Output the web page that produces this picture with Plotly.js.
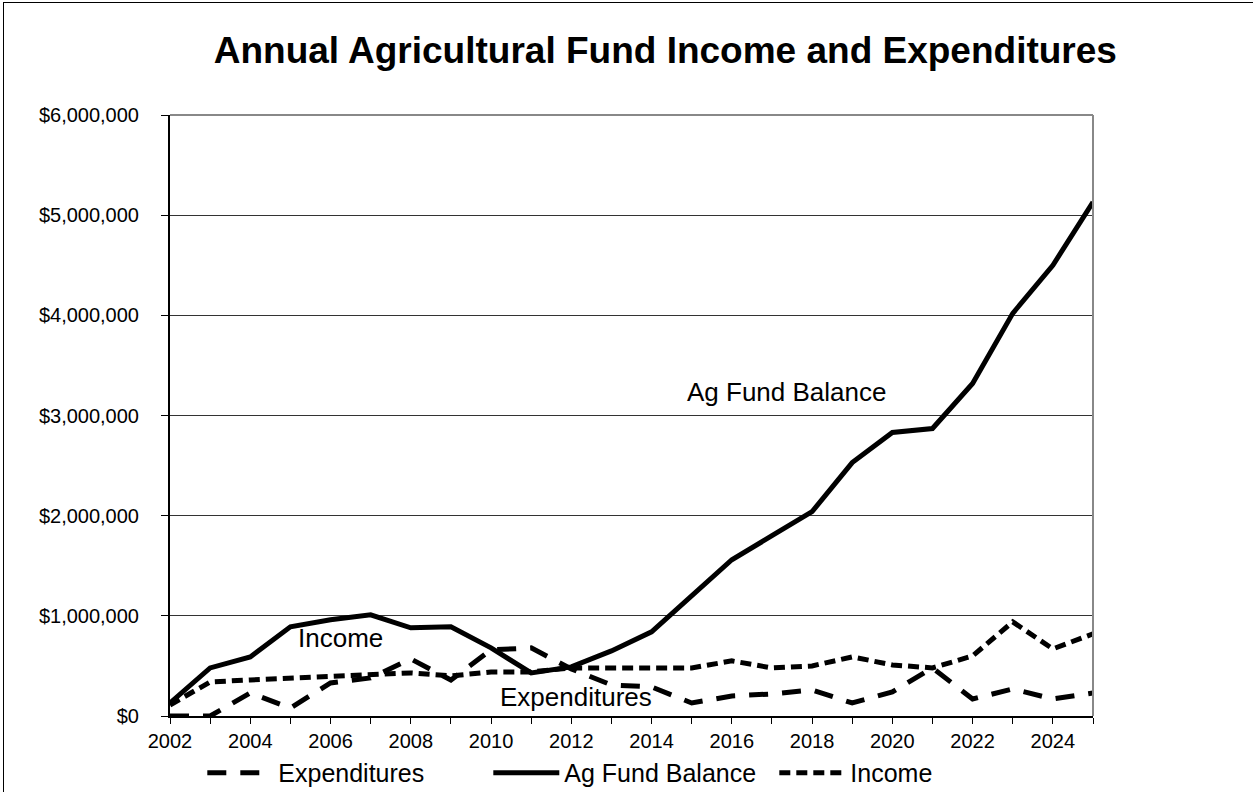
<!DOCTYPE html>
<html>
<head>
<meta charset="utf-8">
<script src="https://cdn.plot.ly/plotly-3.0.1.min.js"></script>
<style>
html,body{margin:0;padding:0;background:#fff;overflow:hidden;}
#frame{position:absolute;left:3px;top:2px;width:1300px;height:850px;border:1px solid #000;box-sizing:border-box;}
#chart{position:absolute;left:0;top:0;width:1253px;height:792px;}
</style>
</head>
<body>
<div id="frame"></div>
<div id="chart"></div>
<script>
const years = [2002,2003,2004,2005,2006,2007,2008,2009,2010,2011,2012,2013,2014,2015,2016,2017,2018,2019,2020,2021,2022,2023,2024,2025];
const expenditures = [0,0,230000,80000,330000,380000,570000,360000,660000,680000,470000,310000,290000,130000,200000,220000,260000,130000,240000,480000,170000,270000,170000,230000];
const agFundBalance = [130000,480000,590000,890000,960000,1010000,880000,890000,680000,430000,490000,650000,840000,1200000,1560000,1800000,2040000,2530000,2830000,2870000,3320000,4020000,4500000,5130000];
const income = [110000,340000,360000,380000,400000,410000,430000,400000,440000,440000,480000,480000,480000,480000,550000,480000,500000,590000,510000,480000,600000,940000,670000,820000];
const xTickVals = [2002,2004,2006,2008,2010,2012,2014,2016,2018,2020,2022,2024];
const xTickText = ["2002","2004","2006","2008","2010","2012","2014","2016","2018","2020","2022","2024"];
const yTickVals = [0,1000000,2000000,3000000,4000000,5000000,6000000];
const yTickText = ["$0","$1,000,000","$2,000,000","$3,000,000","$4,000,000","$5,000,000","$6,000,000"];
const seriesNames = ["Expenditures","Ag Fund Balance","Income"];
const labelText = ["Ag Fund Balance","Income","Expenditures"];
const labelX = [2017.35, 2006.26, 2012.12];
const labelY = [3230000, 780000, 190000];

const font = "Liberation Sans, Arial, sans-serif";
const traces = [
  {x: years, y: expenditures, name: seriesNames[0], mode: "lines",
   line: {color: "#000", width: 5, dash: "19px,14px"}},
  {x: years, y: agFundBalance, name: seriesNames[1], mode: "lines",
   line: {color: "#000", width: 5}},
  {x: years, y: income, name: seriesNames[2], mode: "lines",
   line: {color: "#000", width: 5, dash: "11px,6px"}}
];
const layout = {
  width: 1253, height: 792,
  paper_bgcolor: "rgba(0,0,0,0)", plot_bgcolor: "#fff",
  margin: {l: 170, r: 160, t: 115, b: 76},
  font: {family: font, color: "#000"},
  title: {text: "<b>Annual Agricultural Fund Income and Expenditures</b>",
          font: {size: 37, family: font, color: "#000"},
          x: 0.531, xanchor: "center", y: 0.937, yanchor: "middle"},
  showlegend: true,
  legend: {orientation: "h", x: 0.035, xanchor: "left", yref: "container", y: 0.024, yanchor: "middle",
           font: {size: 25, family: font}, itemwidth: 66, tracegroupgap: 0,
           entrywidth: 205, entrywidthmode: "pixels"},
  xaxis: {range: [2002, 2025], tickvals: xTickVals, ticktext: xTickText,
          ticks: "outside", ticklen: 6, tickcolor: "#000", tickwidth: 1,
          minor: {dtick: 1, tick0: 2002, ticks: "outside", ticklen: 6, tickcolor: "#000", tickwidth: 1, showgrid: false},
          showline: true, linecolor: "#000", linewidth: 2, showgrid: false, zeroline: false,
          tickfont: {size: 20, family: font}, fixedrange: true},
  yaxis: {range: [0, 6000000], tickvals: yTickVals, ticktext: yTickText,
          ticks: "outside", ticklen: 7, tickcolor: "#000", tickwidth: 1, ticklabelstandoff: 18,
          showline: true, linecolor: "#000", linewidth: 2, showgrid: true, gridcolor: "#333", gridwidth: 1,
          zeroline: false, tickfont: {size: 20, family: font}, fixedrange: true},
  shapes: [
    {type: "line", xref: "paper", yref: "paper", x0: 0, x1: 1, y0: 1, y1: 1, line: {color: "#888", width: 2}},
    {type: "line", xref: "paper", yref: "paper", x0: 1, x1: 1, y0: 0, y1: 1, line: {color: "#888", width: 2}}
  ],
  annotations: labelText.map((t, i) => ({
    text: t, x: labelX[i], y: labelY[i], xref: "x", yref: "y", showarrow: false,
    font: {size: 26, family: font, color: "#000"}, xanchor: "center", yanchor: "middle"
  }))
};
Plotly.newPlot("chart", traces, layout, {displayModeBar: false, staticPlot: true});
</script>
</body>
</html>
